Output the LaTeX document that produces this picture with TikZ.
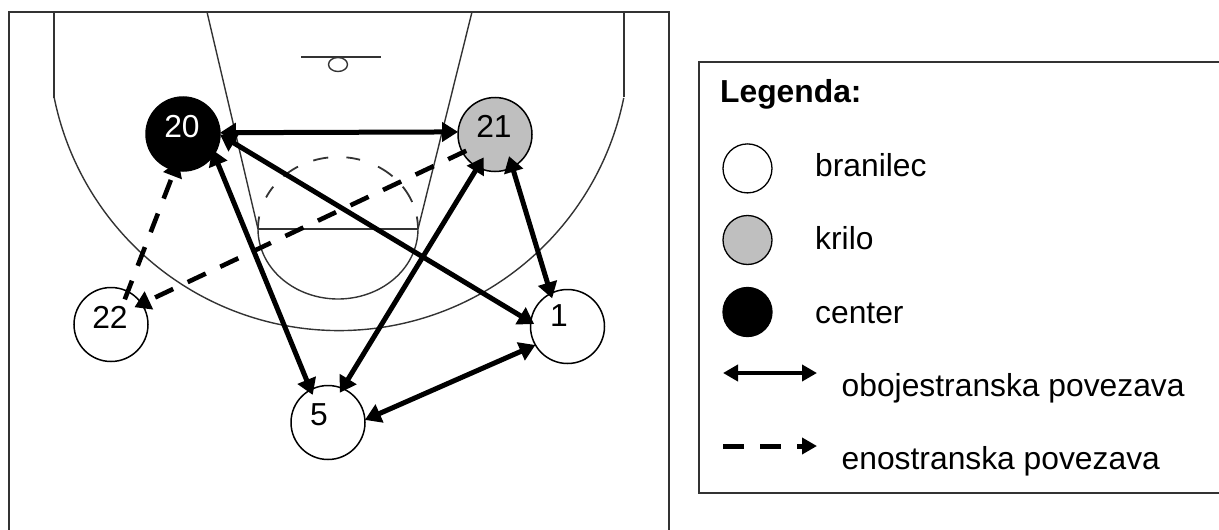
\documentclass[tikz,border=0pt]{standalone}
\usepackage{fontspec}
\setmainfont{Liberation Sans}
\usetikzlibrary{arrows.meta}
\newcommand\shifted[3]{\smash{\raisebox{#2pt}{\makebox[0pt]{\hspace*{#1pt}#3\hspace*{-#1pt}}}}}
\tikzset{
  court/.style={line width=1.4pt,draw=black!80},
  frame/.style={line width=1.8pt,draw=black!80},
  player/.style={circle,draw=black,line width=1.5pt,minimum size=74pt,inner sep=0pt,outer sep=0pt,font=\fontsize{31.8}{38}\selectfont},
  keydot/.style={circle,draw=black,line width=1.3pt,minimum size=49pt,inner sep=0pt,outer sep=0pt},
  legtext/.style={anchor=base west,inner sep=0pt,font=\fontsize{31.8}{38}\selectfont},
  both/.style={line width=5pt,{Triangle[length=16pt,width=19pt]}-{Triangle[length=16pt,width=19pt]}},
  oneway/.style={line width=4.6pt,dash pattern=on 20pt off 16pt,-{Triangle[length=16pt,width=19pt]}},
}
\begin{document}
\begin{tikzpicture}[x=1pt,y=-1pt]
\useasboundingbox (0,0) rectangle (1219,530);
% court
\draw[frame] (9,530) -- (9,12) -- (669,12) -- (669,530);
\draw[court] (54,12) -- (54,98);
\draw[court] (624,12) -- (624,97);
\draw[court,domain=191.5:348.5,samples=90,smooth] plot ({339+290.6*cos(\x)},{40-290.6*sin(\x)});
\draw[court] (207,12) -- (258,229);
\draw[court] (472,12) -- (418,229);
\draw[court] (258,229) -- (418,229);
\draw[court,domain=180:360,samples=50,smooth] plot ({338+80*cos(\x)},{229-70*sin(\x)});
\foreach \a/\b in {0/10,22/36,47/60,74/84,97/108,120/133,144/154,170/180}
  \draw[court,line width=1.8pt,domain=\a:\b,samples=8,smooth] plot ({338+80*cos(\x)},{229-72*sin(\x)});
\draw[court] (301,57) -- (381,57);
\draw[court] (338,64.5) ellipse (9.5 and 7);
% players
\node[player,fill=black,text=white] (n20) at (183,134) {\shifted{-1}{-3.5}{20}};
\node[player,fill=black!25] (n21) at (495,134.5) {\shifted{-1}{-2.5}{21}};
\node[player,fill=white] (n22) at (111,324.5) {\shifted{-1}{-3.5}{22}};
\node[player,fill=white] (n5) at (328,422.5) {\shifted{-9}{-2.5}{5}};
\node[player,fill=white] (n1) at (567.5,326.5) {\shifted{-8.5}{0.5}{1}};
% connectors
\draw[both] (n20.2) -- (n21.176);
\draw[both,shorten <=-4pt] (n1.173) -- (n20.-1.4);
\draw[both,shorten <=-5pt,shorten >=-5.5pt] (n20.-33) -- (n5.118.6);
\draw[both,shorten <=-11.5pt,shorten >=-5pt] (n21.242) -- (n5.67.9);
\draw[both,shorten <=-11.5pt,shorten >=-5pt] (n21.298) -- (n1.117);
\draw[both] (n5.4) -- (n1.210.5);
\draw[oneway,shorten <=-4pt,shorten >=-8pt] (n21.209.7) -- (n22.34.6);
\draw[oneway,shorten <=-8.4pt,shorten >=-10pt] (n22.63) -- (n20.-103.4);
% legend
\draw[frame] (1219,62) -- (699,62) -- (699,493) -- (1219,493);
\node[legtext,font=\fontsize{31.8}{38}\selectfont\bfseries] (title) at (720,102) {Legenda:};
\node[keydot,fill=white] (k1) at (747.5,168.4) {};
\node[keydot,fill=black!25] (k2) at (747.5,240) {};
\node[keydot,fill=black] (k3) at (747.5,312) {};
\node[legtext] (t1) at (815,176) {branilec};
\node[legtext] (t2) at (815,249) {krilo};
\node[legtext] (t3) at (815,323) {center};
\coordinate (a1) at (723,373);
\coordinate (a2) at (817,373);
\coordinate (b1) at (723,446);
\coordinate (b2) at (817,446);
\draw[line width=4.5pt,{Triangle[length=15pt,width=16pt]}-{Triangle[length=15pt,width=16pt]}] (a1) -- (a2);
\draw[line width=5pt,dash pattern=on 21pt off 16pt,-{Triangle[length=15pt,width=16pt]}] (b1) -- (b2);
\node[legtext] (t4) at (841.5,396.5) {obojestranska povezava};
\node[legtext] (t5) at (841.5,469) {enostranska povezava};
\end{tikzpicture}
\end{document}
